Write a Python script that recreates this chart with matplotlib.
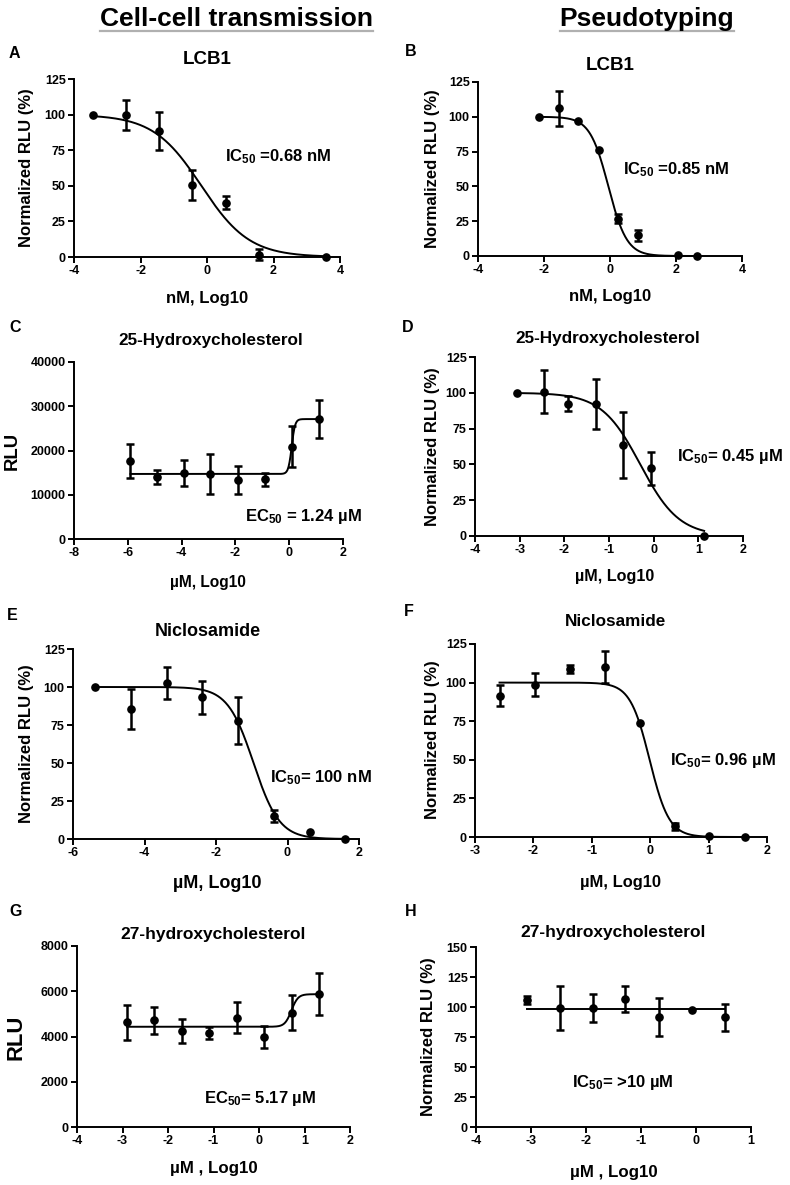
import numpy as np
import matplotlib
matplotlib.use("Agg")
import matplotlib.pyplot as plt

plt.rcParams['font.family'] = ['Liberation Sans', 'DejaVu Sans']
plt.rcParams['font.weight'] = 'bold'
plt.rcParams['mathtext.fontset'] = 'custom'
plt.rcParams['mathtext.rm'] = 'Liberation Sans:bold'
plt.rcParams['mathtext.it'] = 'Liberation Sans:bold'
plt.rcParams['mathtext.bf'] = 'Liberation Sans:bold'
plt.rcParams['mathtext.default'] = 'rm'

# ---------------- data ----------------
# A: LCB1, cell-cell transmission
a_x = [-3.44, -2.44, -1.43, -0.44, 0.57, 1.57, 3.58]
a_y = [100, 100, 88.4, 50.7, 38.2, 1.7, 0]
a_err = [0, 10.5, 13.2, 10.6, 4.4, 4.0, 0]
a_fit = dict(bottom=0, top=100, logc=-0.17, slope=-0.6)

# B: LCB1, pseudotyping
b_x = [-2.16, -1.56, -0.97, -0.34, 0.24, 0.85, 2.06, 2.64]
b_y = [100, 106, 97, 76.4, 26.8, 14.8, 1, 0]
b_err = [0, 12.4, 0, 0, 3.2, 3.8, 0, 0]
b_fit = dict(bottom=0, top=100, logc=-0.05, slope=-1.55)

# C: 25-Hydroxycholesterol, cell-cell (RLU)
c_x = [-5.90, -4.91, -3.92, -2.93, -1.92, -0.91, 0.09, 1.10]
c_y = [17711, 14109, 14859, 14709, 13358, 13508, 20863, 27092]
c_err = [3860, 1580, 2930, 4580, 3230, 1430, 4580, 4320]
c_fit = dict(bottom=14700, top=27100, logc=0.093, slope=7.0)

# D: 25-Hydroxycholesterol, pseudotyping
d_x = [-3.05, -2.46, -1.92, -1.28, -0.68, -0.07, 1.13]
d_y = [100, 100.9, 92.3, 92.3, 63.5, 47.2, 0]
d_err = [0, 15.0, 5.3, 17.6, 22.9, 11.5, 0]
d_fit = dict(bottom=0, top=100, logc=-0.3, slope=-1.0)

# E: Niclosamide, cell-cell
e_x = [-5.38, -4.37, -3.38, -2.38, -1.38, -0.38, 0.62, 1.61]
e_y = [100, 85.7, 102.6, 93.2, 77.9, 14.9, 4.6, 0]
e_err = [0, 13.1, 10.5, 11.0, 15.4, 4.0, 0, 0]
e_fit = dict(bottom=0, top=100, logc=-0.95, slope=-1.2)

# F: Niclosamide, pseudotyping
f_x = [-2.58, -1.97, -1.38, -0.78, -0.18, 0.42, 1.01, 1.62]
f_y = [91.5, 98.7, 108.8, 110.1, 73.6, 6.9, 0.9, 0]
f_err = [6.7, 7.5, 2.9, 10.5, 0, 2.4, 0, 0]
f_fit = dict(bottom=0, top=100, logc=-0.01, slope=-2.6)

# G: 27-hydroxycholesterol, cell-cell (RLU)
g_x = [-2.90, -2.30, -1.70, -1.10, -0.49, 0.12, 0.72, 1.32]
g_y = [4620, 4708, 4251, 4162, 4826, 3985, 5048, 5874]
g_err = [770, 600, 520, 260, 690, 480, 775, 945]
g_fit = dict(bottom=4430, top=5870, logc=0.713, slope=6.0)

# H: 27-hydroxycholesterol, pseudotyping
h_x = [-3.08, -2.48, -1.88, -1.29, -0.68, -0.07, 0.52]
h_y = [106.1, 99.2, 99.2, 106.9, 91.7, 97.2, 91.4]
h_err = [3.2, 18.0, 11.5, 10.7, 16.0, 0, 11.4]
h_fit = dict(bottom=98.6, top=98.6, logc=0.0, slope=0.0)

titles = ['LCB1', 'LCB1', '25-Hydroxycholesterol', '25-Hydroxycholesterol',
          'Niclosamide', 'Niclosamide', '27-hydroxycholesterol', '27-hydroxycholesterol']
ylabels = ['Normalized RLU (%)', 'Normalized RLU (%)', 'RLU', 'Normalized RLU (%)',
           'Normalized RLU (%)', 'Normalized RLU (%)', 'RLU', 'Normalized RLU (%)']
xlabels = ['nM, Log10', 'nM, Log10', 'µM, Log10', 'µM, Log10',
           'µM, Log10', 'µM, Log10', 'µM , Log10', 'µM , Log10']
annots = [r'IC$_{50}$ =0.68 nM', r'IC$_{50}$ =0.85 nM', r'EC$_{50}$ = 1.24 µM',
          r'IC$_{50}$= 0.45 µM', r'IC$_{50}$= 100 nM', r'IC$_{50}$= 0.96 µM',
          r'EC$_{50}$= 5.17 µM', r'IC$_{50}$= >10 µM']
letters = ['A', 'B', 'C', 'D', 'E', 'F', 'G', 'H']
xticks = [np.arange(-4, 5, 2), np.arange(-4, 5, 2), np.arange(-8, 3, 2), np.arange(-4, 3, 1),
          np.arange(-6, 3, 2), np.arange(-3, 3, 1), np.arange(-4, 3, 1), np.arange(-4, 2, 1)]
yticks = [np.arange(0, 126, 25), np.arange(0, 126, 25), np.arange(0, 40001, 10000),
          np.arange(0, 126, 25), np.arange(0, 126, 25), np.arange(0, 126, 25),
          np.arange(0, 8001, 2000), np.arange(0, 151, 25)]

panels = [(a_x, a_y, a_err, a_fit), (b_x, b_y, b_err, b_fit), (c_x, c_y, c_err, c_fit),
          (d_x, d_y, d_err, d_fit), (e_x, e_y, e_err, e_fit), (f_x, f_y, f_err, f_fit),
          (g_x, g_y, g_err, g_fit), (h_x, h_y, h_err, h_fit)]

# ---------------- layout (pixels) ----------------
W, H = 790, 1185
axes_px = [(74, 79, 340, 257), (478, 82, 742, 256), (74, 362, 343, 539), (475, 357, 743, 536),
           (73, 649, 359, 839), (475, 644, 767, 837), (77, 946, 350, 1127), (476, 947, 751, 1127)]
title_px = [(207, 60), (610, 66), (211, 340), (608, 338), (208, 632), (615, 622), (213, 935), (613, 932)]
title_fs = [13.5, 13.5, 12.3, 12.3, 13, 12.3, 12.5, 12.5]
letter_px = [(9, 53), (405, 52), (9, 328), (402, 328), (7, 615), (404, 612), (9, 912), (405, 912)]
xlabel_px = [(207, 298), (610, 297), (208, 582), (615, 577), (217, 883), (621, 883), (214, 1168), (614, 1173)]
xlabel_fs = [12, 12, 11.2, 11.6, 13, 11.9, 12.2, 12.2]
ylabel_px = [(27, 168), (432, 169), (12, 451), (432, 447), (27, 744), (432, 740), (16, 1037), (428, 1037)]
ylabel_fs = [12, 12, 13.3, 12, 12, 12, 15.8, 12]
annot_px = [(225, 157), (623, 170), (245, 517), (677, 457), (270, 778), (670, 760), (204, 1099), (572, 1082)]
annot_fs = 12


def fx(px):
    return px / W


def fy(py):
    return 1 - py / H


def hill(x, bottom, top, logc, slope):
    return bottom + (top - bottom) / (1 + 10 ** ((logc - x) * slope))


fig = plt.figure(figsize=(7.9, 11.85), dpi=100)

for i, (xs, ys, es, fit) in enumerate(panels):
    l, t, r, b = axes_px[i]
    ax = fig.add_axes([fx(l), fy(b), (r - l) / W, (b - t) / H])
    xs = np.array(xs, float)
    ys = np.array(ys, float)
    es = np.array(es, float)
    xc = np.linspace(xs.min(), xs.max(), 400)
    ax.plot(xc, hill(xc, **fit), color='black', lw=1.4, zorder=2, clip_on=False)
    m = es > 0
    ax.errorbar(xs[m], ys[m], yerr=es[m], fmt='none', ecolor='black', elinewidth=1.8,
                capsize=2.6, capthick=1.8, zorder=3, clip_on=False)
    ax.plot(xs, ys, 'o', color='black', ms=5.2, zorder=4, clip_on=False)
    xt = xticks[i]
    yt = yticks[i]
    ax.set_xlim(xt[0], xt[-1])
    ax.set_ylim(yt[0], yt[-1])
    ax.set_xticks(xt)
    ax.set_yticks(yt)
    ax.set_xticklabels([str(v) for v in xt])
    ax.set_yticklabels([str(v) for v in yt])
    for s in ['top', 'right']:
        ax.spines[s].set_visible(False)
    for s in ['left', 'bottom']:
        ax.spines[s].set_linewidth(1.4)
    ax.tick_params(direction='out', length=4.5, width=1.4, labelsize=9, pad=1.5)
    ax.patch.set_alpha(0)

    fig.text(fx(title_px[i][0]), fy(title_px[i][1]), titles[i], ha='center', va='center',
             fontsize=title_fs[i], fontweight='bold')
    fig.text(fx(letter_px[i][0]), fy(letter_px[i][1]), letters[i], ha='left', va='center',
             fontsize=11.5, fontweight='bold')
    fig.text(fx(xlabel_px[i][0]), fy(xlabel_px[i][1]), xlabels[i], ha='center', va='center',
             fontsize=xlabel_fs[i], fontweight='bold')
    fig.text(fx(ylabel_px[i][0]), fy(ylabel_px[i][1]), ylabels[i], ha='center', va='center',
             rotation=90, fontsize=ylabel_fs[i], fontweight='bold')
    fig.text(fx(annot_px[i][0]), fy(annot_px[i][1]), annots[i], ha='left', va='center',
             fontsize=annot_fs, fontweight='bold')

# headers
hdr_font = ['Liberation Sans Narrow', 'Liberation Sans', 'DejaVu Sans']
for txt, cx in [('Cell-cell transmission', 236), ('Pseudotyping', 647)]:
    t = fig.text(fx(cx), fy(19), txt, ha='center', va='center', fontsize=19,
                 fontweight='bold', family=hdr_font)
fig.canvas.draw()
renderer = fig.canvas.get_renderer()
for t in fig.texts[-2:]:
    bb = t.get_window_extent(renderer)
    x0, x1 = bb.x0 / W, bb.x1 / W
    fig.add_artist(plt.Line2D([x0, x1], [fy(31), fy(31)], color='#b0b0b0', lw=1.6,
                              transform=fig.transFigure))

fig.savefig('out.png', dpi=100)
